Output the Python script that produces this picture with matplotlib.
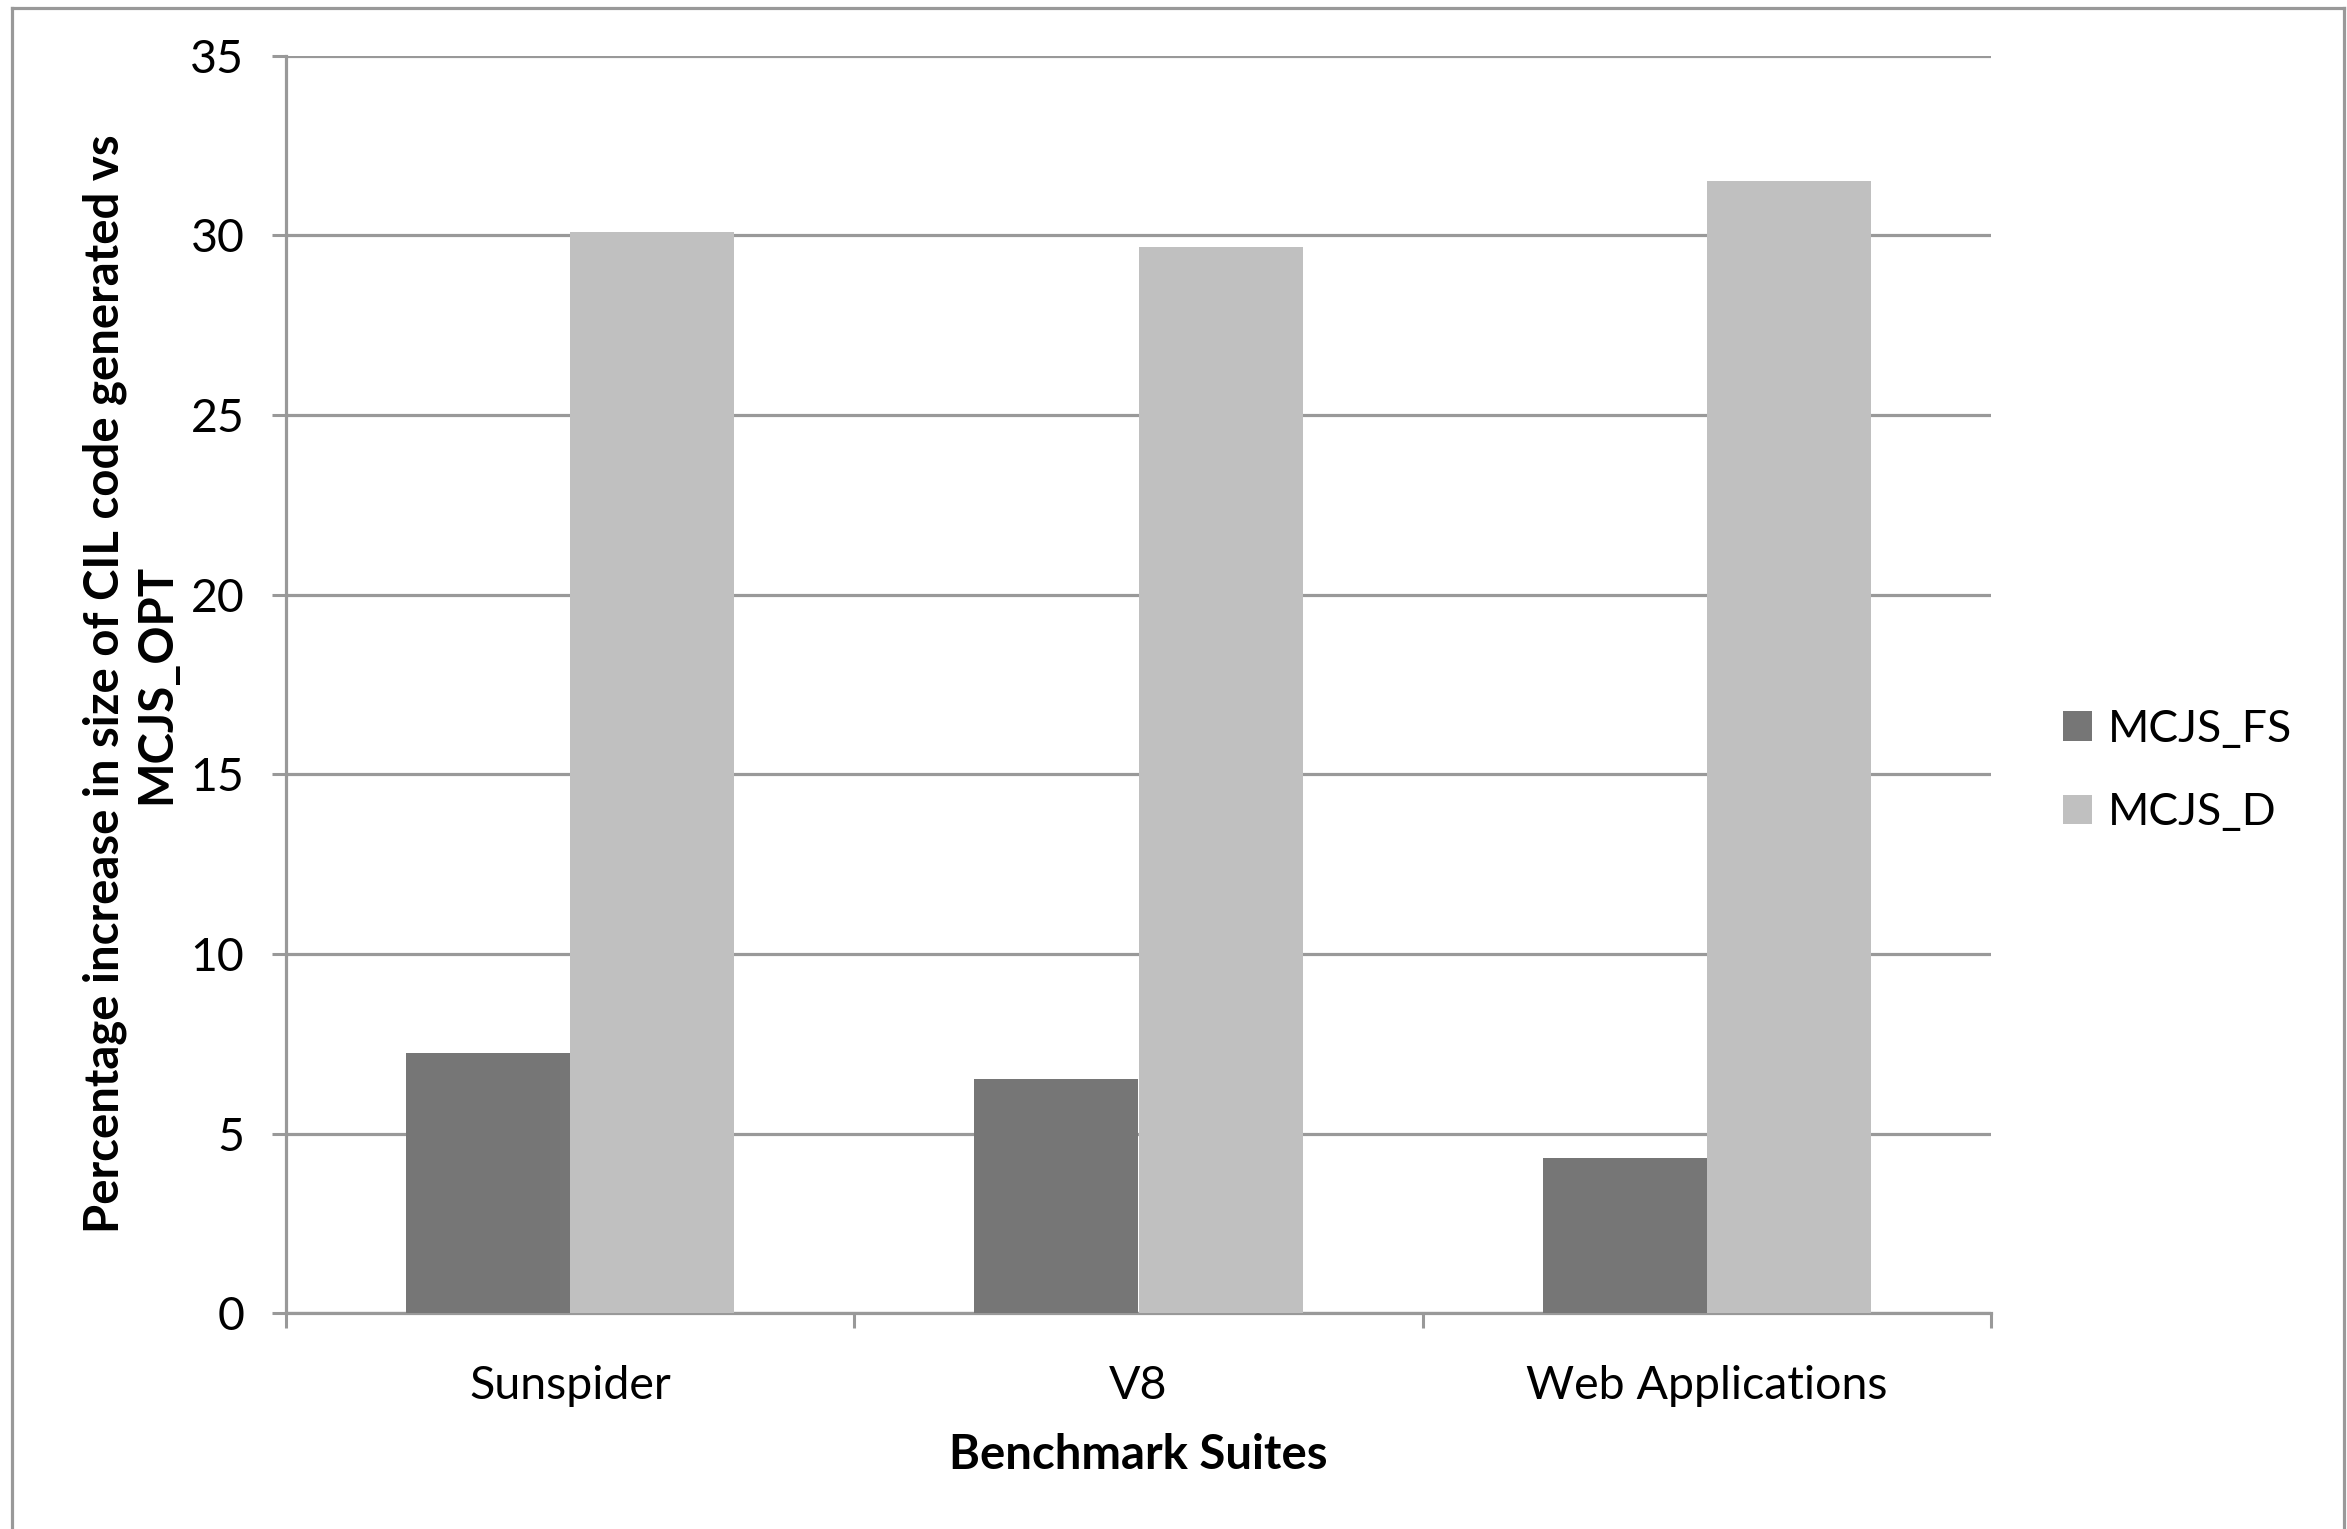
import matplotlib
matplotlib.use("Agg")
import matplotlib.pyplot as plt
from matplotlib.lines import Line2D
import numpy as np

suites = ["Sunspider", "V8", "Web Applications"]
mcjs_fs = [7.23, 6.53, 4.31]
mcjs_d = [30.08, 29.68, 31.5]
series_labels = ["MCJS_FS", "MCJS_D"]
y_ticks = [0, 5, 10, 15, 20, 25, 30, 35]

FS_COLOR = "#767676"
D_COLOR = "#c0c0c0"
LINE_GRAY = "#999999"

plt.rcParams["font.family"] = ["Lato", "DejaVu Sans"]
FONT_SIZE = 32
TICK_SIZE = 33.5
BOLD_SIZE = 34

W, H = 2347, 1529
fig = plt.figure(figsize=(W / 100, H / 100), dpi=100)
ax = fig.add_axes([286 / W, 1 - 1313.3 / H, (1991 - 286) / W, (1313.3 - 55.6) / H])

x = np.arange(len(suites))
width = 0.289
ax.bar(x - width / 2, mcjs_fs, width, color=FS_COLOR, label=series_labels[0], zorder=3)
ax.bar(x + width / 2, mcjs_d, width, color=D_COLOR, label=series_labels[1], zorder=3)

ax.set_xlim(-0.5, len(suites) - 0.5)
ax.set_ylim(0, 35)
ax.set_yticks(y_ticks)
ax.set_axisbelow(True)
ax.yaxis.grid(True, color=LINE_GRAY, linewidth=2.3)

# category boundaries carry the tick marks, labels sit in the middle
ax.set_xticks(np.arange(-0.5, len(suites), 1.0))
ax.set_xticklabels([])
ax.set_xticks(x, minor=True)
ax.set_xticklabels(suites, minor=True)
ax.tick_params(axis="x", which="major", length=11, width=2.2, color=LINE_GRAY, direction="out")
ax.tick_params(axis="x", which="minor", length=0, pad=37, labelsize=TICK_SIZE)
ax.tick_params(axis="y", length=10, width=2.2, color=LINE_GRAY, direction="out", pad=20,
               labelsize=TICK_SIZE)

for side in ("top", "right"):
    ax.spines[side].set_visible(False)
for side in ("left", "bottom"):
    ax.spines[side].set_color(LINE_GRAY)
    ax.spines[side].set_linewidth(2.3)

fig.text(130 / W, 1 - 684 / H,
         "Percentage increase in size of CIL code generated vs\nMCJS_OPT",
         rotation=90, ha="center", va="center", ma="center",
         fontsize=BOLD_SIZE, fontweight="bold", linespacing=1.2)
fig.text(1138 / W, 1 - 1455 / H, "Benchmark Suites",
         ha="center", va="center", fontsize=BOLD_SIZE, fontweight="bold")

fig.legend(loc="center left", bbox_to_anchor=(2023 / W, 1 - 771 / H), frameon=False,
           fontsize=FONT_SIZE, handlelength=0.65, handleheight=0.65,
           handletextpad=0.35, labelspacing=0.95)

# outer chart border (left, top, right)
for xs, ys in [((12 / W, 12 / W), (0, 1 - 8 / H)),
               ((12 / W, 2344 / W), (1 - 8 / H, 1 - 8 / H)),
               ((2344 / W, 2344 / W), (1 - 8 / H, 0))]:
    fig.add_artist(Line2D(xs, ys, color=LINE_GRAY, linewidth=2.3, transform=fig.transFigure))

fig.savefig("out.png", dpi=100, facecolor="white")
plt.close(fig)
